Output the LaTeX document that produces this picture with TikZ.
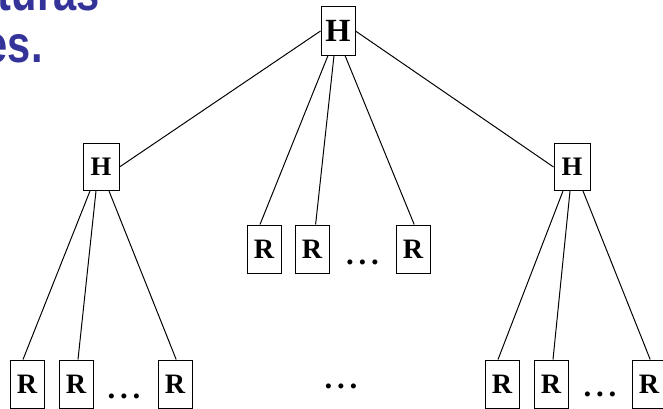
\documentclass[tikz,border=0pt]{standalone}
\usepackage{fontspec}
\setmainfont{Liberation Serif}
\newfontfamily\titlefont{Liberation Sans}
\definecolor{titleblue}{RGB}{51,51,153}
\begin{document}
\begin{tikzpicture}[line width=0.7pt,
  box/.style={draw, inner sep=0pt, minimum width=0.85cm, minimum height=1.2cm, font=\fontsize{20}{20}\selectfont\bfseries},
  hbox/.style={box, minimum width=0.9cm, minimum height=1.175cm, font=\fontsize{19}{19}\selectfont\bfseries},
  tophbox/.style={box, font=\fontsize{23}{23}\selectfont\bfseries},
  dots/.style={inner sep=0pt, font=\fontsize{22}{22}\selectfont\bfseries},
  titletext/.style={inner sep=0pt, anchor=base east, xscale=0.8, text=titleblue, font=\titlefont\fontsize{37}{37}\selectfont\bfseries}]
\useasboundingbox (0,0) rectangle (16.575,10.225);
\clip (0,0) rectangle (16.575,10.225);

\node[titletext] (title1) at (2.5,9.95) {turas};
\node[titletext] (title2) at (1.075,8.65) {es.};

\node[tophbox] (top) at (8.45,9.45) {H};
\node[hbox] (hleft) at (2.525,6.05) {H};
\node[hbox] (hright) at (14.3,6.05) {H};

\node[box] (rm1) at (6.6,4.0) {R};
\node[box] (rm2) at (7.8,4.0) {R};
\node[box] (rm3) at (10.325,4.0) {R};
\node[dots] (dm) at (9.0625,3.675) {.\hspace{3.4pt}.\hspace{3.4pt}.};

\node[box] (rl1) at (0.675,0.625) {R};
\node[box] (rl2) at (1.9,0.625) {R};
\node[box] (rl3) at (4.375,0.625) {R};
\node[dots] (dl) at (3.1,0.325) {.\hspace{3.4pt}.\hspace{3.4pt}.};

\node[dots] (dc) at (8.525,0.575) {.\hspace{3.4pt}.\hspace{3.4pt}.};

\node[box] (rr1) at (12.55,0.625) {R};
\node[box] (rr2) at (13.775,0.625) {R};
\node[box] (rr3) at (16.225,0.625) {R};
\node[dots] (dr) at (15.0,0.375) {.\hspace{3.4pt}.\hspace{3.4pt}.};

\draw (top.west) -- (hleft.east);
\draw (top.east) -- (hright.west);
\draw ([xshift=-0.25cm]top.south) -- ([xshift=-0.1cm]rm1.north);
\draw ([xshift=-0.1cm]top.south) -- ([xshift=0.09cm]rm2.north);
\draw ([xshift=0.175cm]top.south) -- ([xshift=0.03cm]rm3.north);

\draw ([xshift=-0.275cm]hleft.south) -- ([xshift=-0.1cm]rl1.north);
\draw ([xshift=-0.125cm]hleft.south) -- ([xshift=0.05cm]rl2.north);
\draw ([xshift=0.2cm]hleft.south) -- ([xshift=0.03cm]rl3.north);

\draw ([xshift=-0.225cm]hright.south) -- ([xshift=-0.1cm]rr1.north);
\draw ([xshift=-0.05cm]hright.south) -- ([xshift=0.05cm]rr2.north);
\draw ([xshift=0.275cm]hright.south) -- ([xshift=0.03cm]rr3.north);
\end{tikzpicture}
\end{document}
